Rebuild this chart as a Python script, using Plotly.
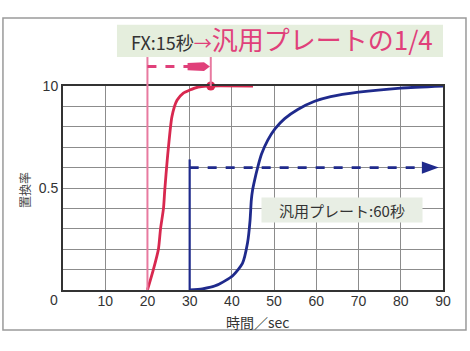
import plotly.graph_objects as go

# ---- data ----
red_x = [20, 21.4, 22.6, 23.1, 23.8, 24.1, 24.7, 25.8, 27.0, 28.5, 30.0, 32.0, 34.0, 45.0]
red_y = [0.0, 0.10, 0.20, 0.30, 0.40, 0.49, 0.64, 0.85, 0.93, 0.965, 0.98, 0.995, 1.0, 1.0]
blue_x = [30, 33, 36.6, 40.2, 42.5, 43.7, 44.3, 44.6, 44.9, 45.4, 46.1, 47.0, 48.5, 50.2, 52.5, 55.6, 59.6, 63.4, 70, 80, 90]
blue_y = [0.0, 0.005, 0.025, 0.07, 0.13, 0.23, 0.34, 0.44, 0.49, 0.54, 0.60, 0.665, 0.735, 0.79, 0.84, 0.885, 0.925, 0.948, 0.97, 0.99, 1.0]
fx_start, fx_end = 20, 35          # FX plate: 15 s
gen_start, gen_end = 30, 89        # general plate: 60 s
gen_arrow_y = 0.6
gen_line_top = 0.64
x_ticks = [10, 20, 30, 40, 50, 60, 70, 80, 90]
y_ticks = [0.5, 1.0]
y_ticktext = ["0.5", "10"]

RED = "#d8284f"
PINK = "#e0407a"
PINK_LIGHT = "#e87aa0"
BLUE = "#1f2a8c"
FONT_JP = "Noto Sans CJK JP"

fig = go.Figure()

fig.add_trace(go.Scatter(x=blue_x, y=blue_y, mode="lines",
                         line=dict(color=BLUE, width=2.8, shape="spline", smoothing=0.6),
                         hoverinfo="skip"))
fig.add_trace(go.Scatter(x=red_x, y=red_y, mode="lines",
                         line=dict(color=RED, width=2.8, shape="spline", smoothing=0.6),
                         hoverinfo="skip"))
fig.add_trace(go.Scatter(x=[fx_end], y=[1.0], mode="markers",
                         marker=dict(color=RED, size=9), cliponaxis=False, hoverinfo="skip"))

shapes = []
# outer frame
shapes.append(dict(type="rect", xref="paper", yref="paper", x0=-0.158, x1=1.0605, y0=-0.196, y1=1.333,
                   line=dict(color="#9a9a9a", width=1.5), fillcolor="rgba(0,0,0,0)", layer="below"))
# banner background
shapes.append(dict(type="rect", xref="paper", yref="paper", x0=0.142, x1=1.0, y0=1.142, y1=1.30,
                   line=dict(width=0), fillcolor="#e5eedd", layer="below"))
# pink vertical lines
shapes.append(dict(type="line", xref="x", yref="paper", x0=fx_start, x1=fx_start, y0=0, y1=1.142,
                   line=dict(color=PINK_LIGHT, width=2)))
shapes.append(dict(type="line", xref="x", yref="paper", x0=fx_end, x1=fx_end, y0=1.0, y1=1.142,
                   line=dict(color=PINK_LIGHT, width=2)))
# pink dashed arrow
ya = 1.095
shapes.append(dict(type="line", xref="x", yref="paper", x0=fx_start, x1=fx_end - 4.5, y0=ya, y1=ya,
                   line=dict(color=PINK, width=3, dash="dash")))
shapes.append(dict(type="path", xref="x", yref="paper",
                   path=f"M {fx_end-5.5},{ya-0.018} L {fx_end-1.6},{ya-0.022} L {fx_end-0.2},{ya} L {fx_end-1.6},{ya+0.022} L {fx_end-5.5},{ya+0.018} Z",
                   fillcolor=PINK, line=dict(width=0)))
# blue vertical line
shapes.append(dict(type="line", xref="x", yref="y", x0=gen_start, x1=gen_start, y0=0, y1=gen_line_top,
                   line=dict(color=BLUE, width=2.2)))
# blue dashed arrow
shapes.append(dict(type="line", xref="x", yref="y", x0=gen_start, x1=gen_end - 3.5, y0=gen_arrow_y, y1=gen_arrow_y,
                   line=dict(color=BLUE, width=2.6, dash="dash")))
shapes.append(dict(type="path", xref="x", yref="y",
                   path=f"M {gen_end-4},{gen_arrow_y-0.03} L {gen_end},{gen_arrow_y} L {gen_end-4},{gen_arrow_y+0.03} Z",
                   fillcolor=BLUE, line=dict(width=0)))

C = dict(xanchor="center", yanchor="middle", showarrow=False, xref="paper", yref="paper")
annotations = [
    dict(x=0.575, y=1.235,
         text=("<span style='color:#333333;font-size:18px'>FX:15秒</span>"
               f"<span style='color:{PINK};font-size:18px'>→</span>"
               f"<span style='color:{PINK};font-size:26px'>汎用プレートの1/4</span>"),
         font=dict(family=FONT_JP, size=26), **C),
    dict(x=0.7355, y=0.39,
         text="汎用プレート:60秒", font=dict(family=FONT_JP, size=15, color="#333333"),
         bgcolor="#e8eee4", width=158, height=22, **C),
    dict(x=-0.025, y=-0.049,
         text="0", font=dict(family="Liberation Sans", size=14, color="#333333"), **C),
    dict(x=0.513, y=-0.157,
         text="時間／sec", font=dict(family=FONT_JP, size=14, color="#333333"), **C),
    dict(x=-0.103, y=0.49, textangle=-90,
         text="置換率", font=dict(family=FONT_JP, size=12, color="#444444"), **C),
]

fig.update_layout(
    width=470, height=351,
    margin=dict(l=63, r=27, t=86, b=61),
    paper_bgcolor="white", plot_bgcolor="white",
    showlegend=False,
    shapes=shapes, annotations=annotations,
    font=dict(family="Liberation Sans", size=14, color="#333333"),
)
fig.update_xaxes(range=[0, 90], tickvals=x_ticks, ticktext=[str(v) for v in x_ticks],
                 showgrid=True, gridcolor="#8c8c8c", gridwidth=1.3,
                 showline=True, linecolor="#333333", linewidth=2, mirror=True,
                 ticks="", ticklabelstandoff=-3, zeroline=False)
fig.update_yaxes(range=[0, 1], tickvals=y_ticks, ticktext=y_ticktext,
                 showgrid=False,
                 showline=True, linecolor="#333333", linewidth=2, mirror=True,
                 ticks="", ticklabelstandoff=0, zeroline=False,
                 minor=dict(tickvals=[0.1, 0.2, 0.3, 0.4, 0.5, 0.6, 0.7, 0.8, 0.9], showgrid=True,
                            gridcolor="#8c8c8c", gridwidth=1.3))

fig.write_html("out.html")
